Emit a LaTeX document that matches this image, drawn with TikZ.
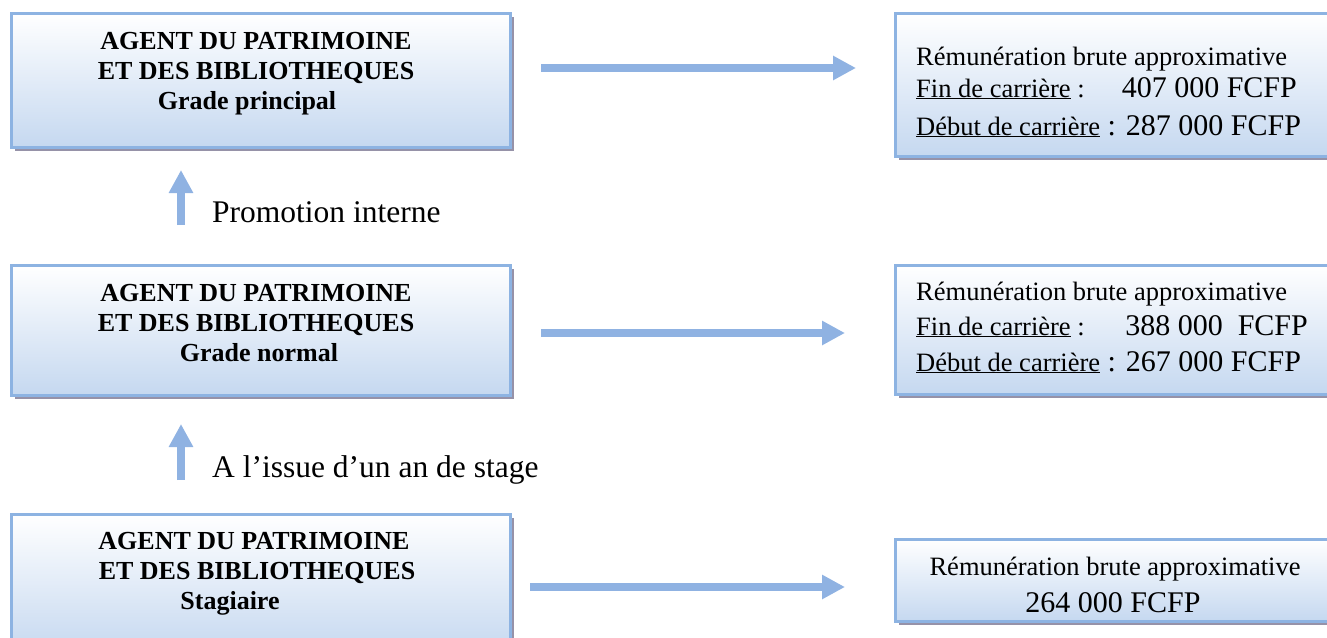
\documentclass[tikz,border=0pt]{standalone}
\usepackage{fontspec}
\setmainfont{Liberation Serif}
\usetikzlibrary{arrows.meta,shadows}
\definecolor{boxborder}{RGB}{141,179,226}
\definecolor{boxbottom}{RGB}{197,216,240}
\definecolor{shadowc}{RGB}{150,146,168}
\definecolor{arrowc}{RGB}{143,178,226}
\tikzset{
  box/.style={draw=boxborder, line width=2.5pt, top color=white, bottom color=boxbottom,
    anchor=north west, inner sep=0pt,
    drop shadow={shadow xshift=3.5pt, shadow yshift=-3.5pt, fill=shadowc, opacity=1}},
  bigarrow/.style={draw=arrowc, line width=8pt, -{Triangle[width=23pt,length=23pt]}},
  bt/.style={font=\fontsize{26}{30}\selectfont\bfseries, inner sep=0pt, anchor=base},
  rt/.style={font=\fontsize{26.5}{30}\selectfont, inner sep=0pt, anchor=base west},
  rtc/.style={font=\fontsize{26.5}{30}\selectfont, inner sep=0pt, anchor=base},
  num/.style={font=\fontsize{30}{34}\selectfont, inner sep=0pt, anchor=base east},
  numc/.style={font=\fontsize{30}{34}\selectfont, inner sep=0pt, anchor=base},
  lbl/.style={font=\fontsize{31.5}{36}\selectfont, inner sep=0pt, anchor=base west}
}
\begin{document}
\begin{tikzpicture}[x=1pt,y=-1pt]
\useasboundingbox (0,0) rectangle (1327,637);
\clip (0,0) rectangle (1327,637);
% left boxes
\node[box, minimum width=499pt, minimum height=134pt] (tl) at (10,12) {};
\node[box, minimum width=499pt, minimum height=130pt] (ml) at (10,264) {};
\node[box, minimum width=499pt, minimum height=140pt] (bl) at (10,513) {};
% right boxes
\node[box, minimum width=450pt, minimum height=143pt] (tr) at (894,12) {};
\node[box, minimum width=450pt, minimum height=129pt] (mr) at (894,264) {};
\node[box, minimum width=450pt, minimum height=82pt] (br) at (894,538) {};
% left texts
\node[bt] (tl1) at (256,49) {AGENT DU PATRIMOINE};
\node[bt] (tl2) at (256,79) {ET DES BIBLIOTHEQUES};
\node[bt] (tl3) at (247,109) {Grade principal};
\node[bt] (ml1) at (256,301) {AGENT DU PATRIMOINE};
\node[bt] (ml2) at (256,331) {ET DES BIBLIOTHEQUES};
\node[bt] (ml3) at (259,361) {Grade normal};
\node[bt] (bl1) at (254,549) {AGENT DU PATRIMOINE};
\node[bt] (bl2) at (257,579) {ET DES BIBLIOTHEQUES};
\node[bt] (bl3) at (230,609) {Stagiaire};
% right texts
\node[rt] (tr1) at (916,65) {Rémunération brute approximative};
\node[rt] (tr2) at (916,97) {\underline{Fin de carrière} :};
\node[num] (tr2n) at (1297,97) {407 000 FCFP};
\node[rt] (tr3) at (916,135) {\underline{Début de carrière}\fontsize{30}{34}\selectfont{} : 287 000 FCFP};
\node[rt] (mr1) at (916,300) {Rémunération brute approximative};
\node[rt] (mr2) at (916,335) {\underline{Fin de carrière} :};
\node[num] (mr2n) at (1308,335) {388 000\ \ FCFP};
\node[rt] (mr3) at (916,371) {\underline{Début de carrière}\fontsize{30}{34}\selectfont{} : 267 000 FCFP};
\node[rtc] (br1) at (1115,575) {Rémunération brute approximative};
\node[numc] (br2) at (1113,612) {264 000 FCFP};
% labels
\node[lbl] (lp) at (212,222) {Promotion interne};
\node[lbl] (ls) at (212,477) {A l’issue d’un an de stage};
% arrows
\coordinate (a1s) at (541,68);  \coordinate (a1e) at (856,68);
\coordinate (a2s) at (541,333); \coordinate (a2e) at (845,333);
\coordinate (a3s) at (530,587); \coordinate (a3e) at (845,587);
\coordinate (v1s) at (181,225); \coordinate (v1e) at (181,170);
\coordinate (v2s) at (181,480); \coordinate (v2e) at (181,424);
\draw[bigarrow] (a1s) -- (a1e);
\draw[bigarrow] (a2s) -- (a2e);
\draw[bigarrow] (a3s) -- (a3e);
\draw[bigarrow] (v1s) -- (v1e);
\draw[bigarrow] (v2s) -- (v2e);
\end{tikzpicture}
\end{document}
